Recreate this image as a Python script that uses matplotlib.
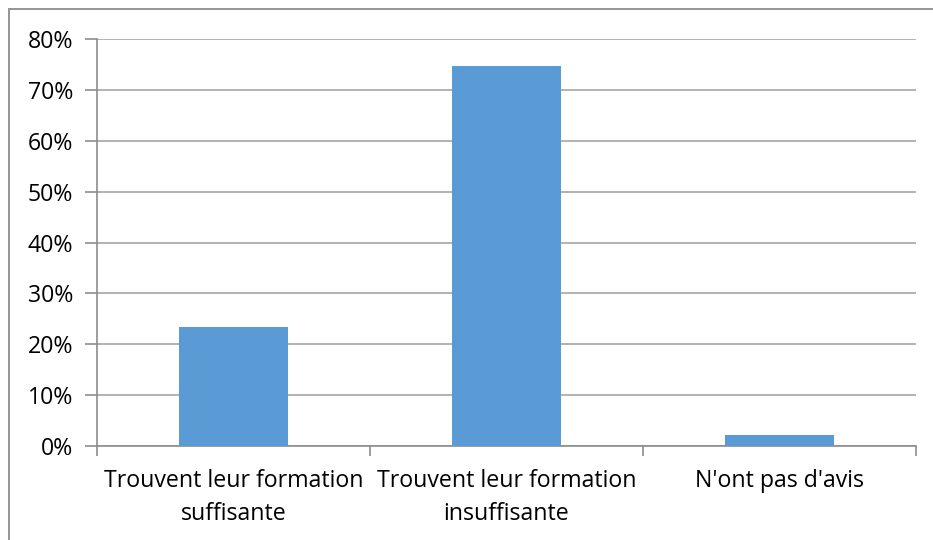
import matplotlib
matplotlib.use("Agg")
import matplotlib.pyplot as plt
from matplotlib.patches import Rectangle
from matplotlib.ticker import FuncFormatter

categories = ["Trouvent leur formation\nsuffisante",
              "Trouvent leur formation\ninsuffisante",
              "N'ont pas d'avis"]
values = [23.4, 74.6, 2.1]
yticks = [0, 10, 20, 30, 40, 50, 60, 70, 80]

plt.rcParams['font.family'] = ['Open Sans', 'DejaVu Sans']

W, H = 933, 540
fig = plt.figure(figsize=(W / 100, H / 100), dpi=100)
fig.patch.set_facecolor("white")

# outer chart frame (left and top visible, runs off right/bottom)
fig.add_artist(Rectangle((8.5 / W, -0.1), 1.2, (H - 9.3) / H + 0.1,
                         transform=fig.transFigure, fill=False,
                         edgecolor="#8c8c8c", linewidth=1.3))

ax = fig.add_axes([97 / W, (H - 446) / H, (916 - 97) / W, (446 - 39) / H])
x = list(range(len(categories)))
ax.bar(x, values, width=0.4, color="#5B9BD5", zorder=3)

ax.set_xlim(-0.5, len(categories) - 0.5)
ax.set_ylim(0, 80)
ax.set_yticks(yticks)
ax.yaxis.set_major_formatter(FuncFormatter(lambda v, p: f"{int(v)}%"))
ax.grid(axis="y", color="#a6a6a6", linewidth=1.2, zorder=0)

ax.set_xticks(x)
ax.set_xticklabels(categories, fontsize=16.7, linespacing=1.5)
ax.set_xticks([-0.5, 0.5, 1.5, 2.5], minor=True)
ax.tick_params(axis="x", which="major", length=0, pad=16.5)
ax.tick_params(axis="x", which="minor", length=7, color="#8c8c8c", width=1.2)
ax.tick_params(axis="y", length=9, color="#8c8c8c", width=1.2,
               labelsize=16.7, pad=8)

for s in ["top", "right"]:
    ax.spines[s].set_visible(False)
for s in ["left", "bottom"]:
    ax.spines[s].set_color("#8c8c8c")
    ax.spines[s].set_linewidth(1.2)

fig.savefig("out.png", dpi=100)
